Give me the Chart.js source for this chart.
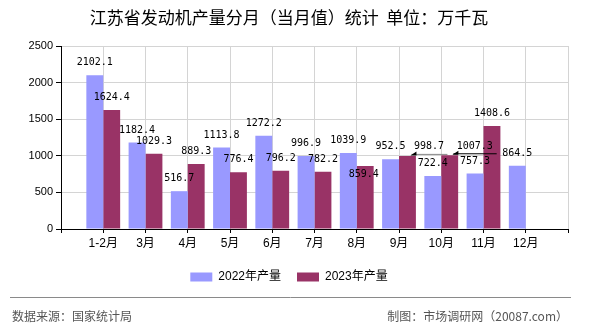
<!DOCTYPE html>
<html>
<head>
<meta charset="utf-8">
<script src="https://cdn.jsdelivr.net/npm/chart.js@4/dist/chart.umd.min.js"></script>
<style>
  html, body { margin: 0; padding: 0; background: #fff; }
  #wrap { width: 590px; height: 330px; }
</style>
</head>
<body>
<div id="wrap"><canvas id="chart" width="590" height="330"></canvas></div>
<script>
// 月份与两年的产量（万千瓦）
const months = ['1-2月', '3月', '4月', '5月', '6月', '7月', '8月', '9月', '10月', '11月', '12月'];
const output2022 = [2102.1, 1182.4, 516.7, 1113.8, 1272.2, 996.9, 1039.9, 952.5, 722.4, 757.3, 864.5];
const output2023 = [1624.4, 1029.3, 889.3, 776.4, 796.2, 782.2, 859.4, 998.7, 1007.3, 1408.6, null];
const yTicks = [0, 500, 1000, 1500, 2000, 2500];

// 两端各留一个空位，让柱子不贴着坐标轴
const labels = ['', ...months, ''];
const pad = arr => [null, ...arr, null];

// 个别数值标签挪开，避免重叠（dx, dy 相对默认位置；键为 数据集-月份序号）
const labelShift = {
  '1-6': { dx: -1.5, dy: 20.8 },
  '1-7': { dx: 21.6, dy: 3.5, lead: [4, 40, '#888'] },
  '1-8': { dx: 25, dy: 3.5, lead: [3.7, 47, '#000'] }
};

const valueLabels = {
  id: 'valueLabels',
  afterDatasetsDraw(chart) {
    const ctx = chart.ctx;
    ctx.save();
    ctx.font = '10px "DejaVu Sans Mono", monospace';
    ctx.textAlign = 'center';
    ctx.textBaseline = 'middle';
    chart.data.datasets.forEach((ds, di) => {
      chart.getDatasetMeta(di).data.forEach((bar, i) => {
        const v = ds.data[i];
        if (v == null) return;
        const s = labelShift[di + '-' + (i - 1)] || {};
        const x = bar.x + (s.dx || 0);
        const y = bar.y - 12.5 + (s.dy || 0);
        if (s.lead) {
          const ly = bar.y - 1.5;
          ctx.strokeStyle = s.lead[2];
          ctx.lineWidth = 1;
          ctx.beginPath();
          ctx.moveTo(bar.x + s.lead[0], ly);
          ctx.lineTo(bar.x + s.lead[1], ly);
          ctx.stroke();
          ctx.fillStyle = '#000';
          ctx.beginPath();
          ctx.moveTo(bar.x + s.lead[0] - 1, ly + 1);
          ctx.lineTo(bar.x + s.lead[0] + 5, ly - 3);
          ctx.lineTo(bar.x + s.lead[0] + 5, ly + 1);
          ctx.closePath();
          ctx.fill();
        }
        ctx.fillStyle = '#000';
        ctx.fillText(v.toFixed(1), x, y);
      });
    });
    ctx.restore();
  }
};

// 底部来源与分隔线
const footer = {
  id: 'footer',
  afterDraw(chart) {
    const ctx = chart.ctx;
    ctx.save();
    ctx.strokeStyle = '#8a8a8a';
    ctx.lineWidth = 1;
    ctx.beginPath();
    ctx.moveTo(10, 297.5);
    ctx.lineTo(571, 297.5);
    ctx.stroke();
    ctx.font = '12px "Noto Sans CJK SC", sans-serif';
    ctx.fillStyle = '#555';
    ctx.textBaseline = 'middle';
    ctx.textAlign = 'left';
    ctx.fillText('数据来源：国家统计局', 12, 316);
    ctx.textAlign = 'right';
    ctx.fillText('制图：市场调研网（20087.com）', 568, 316);
    ctx.restore();
  }
};

new Chart(document.getElementById('chart'), {
  type: 'bar',
  data: {
    labels: labels,
    datasets: [
      { label: '2022年产量', data: pad(output2022), backgroundColor: '#9999ff' },
      { label: '2023年产量', data: pad(output2023), backgroundColor: '#993366' }
    ]
  },
  options: {
    responsive: false,
    animation: false,
    layout: { padding: { left: 10, right: 22, top: 0, bottom: 37 } },
    datasets: { bar: { categoryPercentage: 0.8, barPercentage: 1.0 } },
    scales: {
      x: {
        offset: false,
        grid: { offset: false, color: '#d4d4d4', tickColor: '#000', tickLength: 4 },
        border: { color: '#000' },
        ticks: { color: '#000', padding: 3, autoSkip: false, maxRotation: 0,
                 font: { size: 12, family: '"Liberation Sans", "Noto Sans CJK SC"' } },
        afterFit(s) { s.height = 26; }
      },
      y: {
        min: 0,
        max: 2500,
        afterBuildTicks(s) { s.ticks = yTicks.map(v => ({ value: v })); },
        grid: { color: '#d4d4d4', tickColor: '#000', tickLength: 5 },
        border: { color: '#000' },
        ticks: { color: '#000', padding: 3, callback: v => String(v),
                 font: { size: 11, family: '"Liberation Sans", sans-serif' } },
        afterFit(s) { s.width = 51; }
      }
    },
    plugins: {
      title: {
        display: true,
        text: '江苏省发动机产量分月（当月值）统计  单位：万千瓦',
        color: '#000',
        font: { size: 17, weight: 'normal', family: '"Noto Sans CJK SC", sans-serif' },
        padding: { top: 7.5, bottom: 18.1 }
      },
      legend: {
        position: 'bottom',
        labels: {
          boxWidth: 22,
          boxHeight: 9,
          padding: 16,
          color: '#000',
          font: { size: 12, family: '"Liberation Sans", "Noto Sans CJK SC"' }
        }
      },
      tooltip: { enabled: false }
    }
  },
  plugins: [valueLabels, footer]
});
</script>
</body>
</html>
